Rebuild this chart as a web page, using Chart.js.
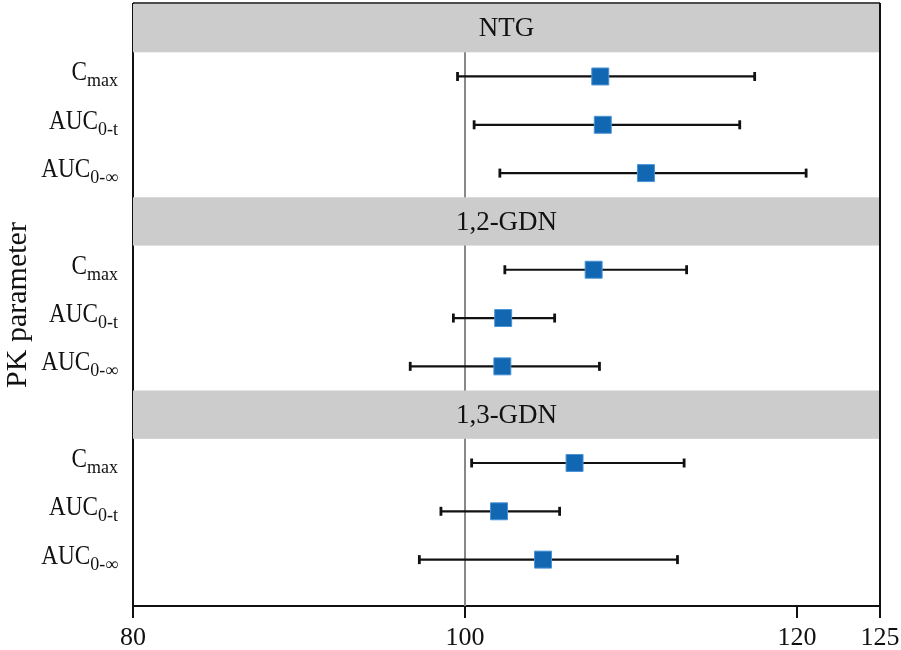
<!DOCTYPE html>
<html>
<head>
<meta charset="utf-8">
<script src="https://cdn.jsdelivr.net/npm/chart.js@4.4.1/dist/chart.umd.min.js"></script>
<style>
  body { margin: 0; background: #fff; }
</style>
</head>
<body>
<canvas id="chart" width="901" height="650"></canvas>
<script>
const groups = ["NTG", "1,2-GDN", "1,3-GDN"];
const headerPos = [[0, 1], [4, 5], [8, 9]];
const paramNames = ["C", "AUC", "AUC", "C", "AUC", "AUC", "C", "AUC", "AUC"];
const paramSubs = ["max", "0-t", "0-\u221E", "max", "0-t", "0-\u221E", "max", "0-t", "0-\u221E"];
const rowPos = [1.5, 2.5, 3.5, 5.5, 6.5, 7.5, 9.5, 10.5, 11.5];
const estimate = [108.15, 108.3, 110.9, 107.75, 102.3, 102.25, 106.6, 102.05, 104.7];
const lowerCI = [99.55, 100.55, 102.1, 102.4, 99.3, 96.7, 100.4, 98.55, 97.25];
const upperCI = [117.45, 116.55, 120.55, 113.35, 105.4, 108.1, 113.2, 105.7, 112.8];
const xTicks = [80, 100, 120, 125];
const refValue = 100;

const serif = "'Liberation Serif', 'Times New Roman', serif";

// points first so they sit on top of the whiskers
const datasets = [
  {
    type: "scatter",
    data: estimate.map((v, i) => ({ x: v, y: rowPos[i] })),
    pointStyle: "rect",
    pointRadius: 12,
    pointHoverRadius: 12,
    backgroundColor: "#1167b1",
    borderColor: "#4a94d6",
    borderWidth: 1,
  },
];
rowPos.forEach((y, i) => {
  datasets.push({
    type: "line",
    data: [{ x: lowerCI[i], y: y }, { x: upperCI[i], y: y }],
    borderColor: "#111",
    borderWidth: 2.2,
    pointStyle: "line",
    rotation: 90,
    pointRadius: 4.5,
    pointHoverRadius: 4.5,
    pointBorderWidth: 2.8,
    pointBorderColor: "#111",
  });
});

// gray strips, reference line and frame
const panelPlugin = {
  id: "panels",
  beforeDatasetsDraw(chart) {
    const { ctx, chartArea, scales } = chart;
    const x = scales.x, y = scales.y;
    ctx.save();
    const xr = Math.round(x.getPixelForValue(refValue));
    ctx.strokeStyle = "#888";
    ctx.lineWidth = 2;
    ctx.beginPath();
    ctx.moveTo(xr, chartArea.top);
    ctx.lineTo(xr, chartArea.bottom);
    ctx.stroke();

    headerPos.forEach((h, i) => {
      const y0 = y.getPixelForValue(h[0]);
      const y1 = y.getPixelForValue(h[1]);
      ctx.fillStyle = "#cccccc";
      ctx.fillRect(chartArea.left, y0, chartArea.right - chartArea.left, y1 - y0);
      ctx.fillStyle = "#111";
      ctx.font = "27px " + serif;
      ctx.textAlign = "center";
      ctx.textBaseline = "middle";
      ctx.fillText(groups[i], (chartArea.left + chartArea.right) / 2, (y0 + y1) / 2 + 1);
    });

    ctx.strokeStyle = "#111";
    ctx.lineWidth = 1.5;
    ctx.beginPath();
    ctx.moveTo(chartArea.left, chartArea.top - 1);
    ctx.lineTo(chartArea.right, chartArea.top - 1);
    ctx.stroke();
    ctx.lineWidth = 2;
    ctx.beginPath();
    ctx.moveTo(chartArea.right, chartArea.top - 1);
    ctx.lineTo(chartArea.right, chartArea.bottom);
    ctx.stroke();
    ctx.restore();
  },
  afterDraw(chart) {
    // row labels with subscripts; the figure's lettering is a bit narrow
    const { ctx, scales } = chart;
    const squeeze = 0.86;
    const subSqueeze = 1;
    const rightEdge = 118;
    ctx.save();
    ctx.fillStyle = "#111";
    ctx.textBaseline = "alphabetic";
    ctx.textAlign = "left";
    rowPos.forEach((r, i) => {
      const yp = scales.y.getPixelForValue(r);
      ctx.font = "18px " + serif;
      const subW = ctx.measureText(paramSubs[i]).width * subSqueeze;
      ctx.font = "27px " + serif;
      const mainW = ctx.measureText(paramNames[i]).width * squeeze;
      const x0 = rightEdge - subW - mainW;

      ctx.save();
      ctx.translate(x0, yp + 4);
      ctx.scale(squeeze, 1);
      ctx.font = "27px " + serif;
      ctx.fillText(paramNames[i], 0, 0);
      ctx.restore();

      ctx.save();
      ctx.translate(x0 + mainW, yp + 10);
      ctx.scale(subSqueeze, 1);
      ctx.font = "18px " + serif;
      ctx.fillText(paramSubs[i], 0, 0);
      ctx.restore();
    });
    ctx.restore();
  },
};

new Chart(document.getElementById("chart"), {
  type: "scatter",
  data: { datasets: datasets },
  options: {
    responsive: false,
    devicePixelRatio: 1,
    animation: false,
    layout: { autoPadding: false, padding: { top: 4, right: 21, left: 0, bottom: 0 } },
    plugins: {
      legend: { display: false },
      tooltip: { enabled: false },
    },
    scales: {
      x: {
        type: "linear",
        min: 80,
        max: 125,
        afterBuildTicks: (scale) => {
          scale.ticks = xTicks.map((v) => ({ value: v }));
        },
        afterFit: (scale) => {
          scale.height = 44;
          scale.paddingLeft = 0;
          scale.paddingRight = 0;
        },
        ticks: {
          autoSkip: false,
          maxRotation: 0,
          padding: 5,
          color: "#111",
          font: { family: serif, size: 26 },
          callback: (v) => String(v),
        },
        grid: {
          drawOnChartArea: false,
          tickLength: 12,
          color: "#111",
          lineWidth: 2,
        },
        border: { color: "#111", width: 2 },
      },
      y: {
        type: "linear",
        min: 0,
        max: 12.46,
        reverse: true,
        afterFit: (scale) => {
          scale.width = 133;
          scale.paddingTop = 0;
          scale.paddingBottom = 0;
        },
        ticks: { display: false },
        grid: { display: false },
        border: { color: "#111", width: 2 },
        title: {
          display: true,
          text: "PK parameter",
          color: "#111",
          padding: 0,
          font: { family: serif, size: 30 },
        },
      },
    },
  },
  plugins: [panelPlugin],
});
</script>
</body>
</html>
